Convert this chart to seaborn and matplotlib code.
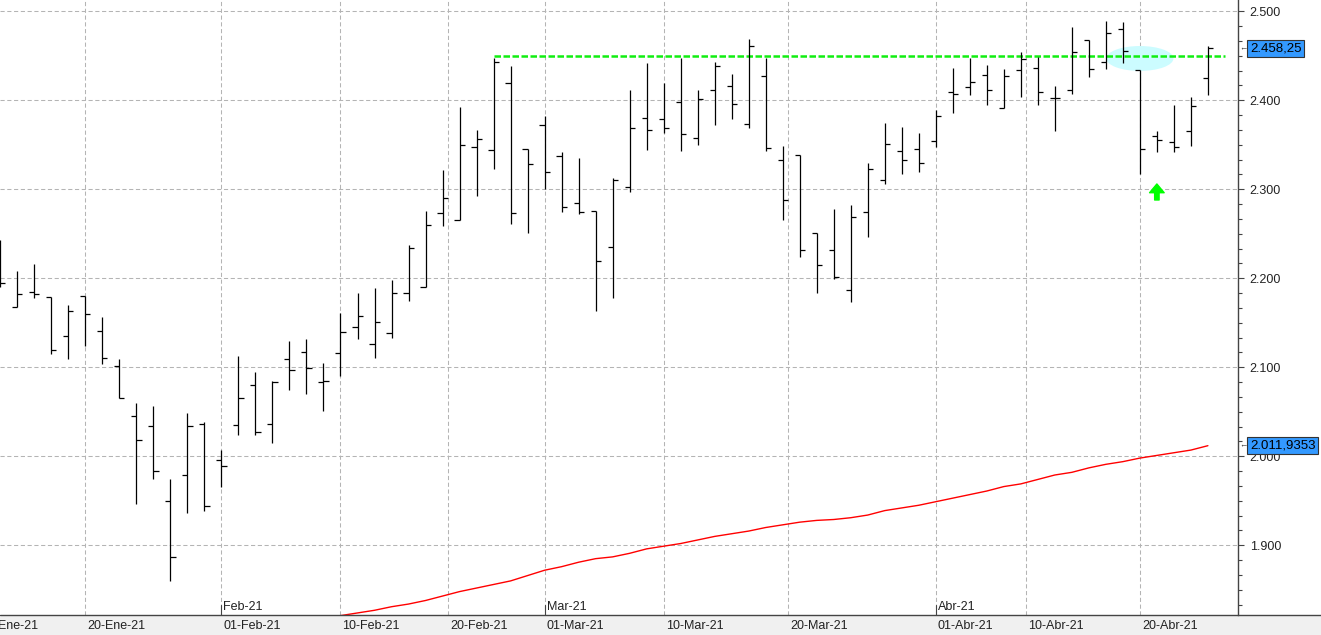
import numpy as np
import pandas as pd
import matplotlib
matplotlib.use('Agg')
import matplotlib.pyplot as plt
import seaborn as sns
from matplotlib.patches import Ellipse, Rectangle
from matplotlib.lines import Line2D
from matplotlib.ticker import MultipleLocator, FuncFormatter

# daily OHLC bars (US trading days)
dates = ['2021-01-12', '2021-01-13', '2021-01-14', '2021-01-15', '2021-01-19', '2021-01-20',
         '2021-01-21', '2021-01-22', '2021-01-25', '2021-01-26', '2021-01-27', '2021-01-28',
         '2021-01-29', '2021-02-01', '2021-02-02', '2021-02-03', '2021-02-04', '2021-02-05',
         '2021-02-08', '2021-02-09', '2021-02-10', '2021-02-11', '2021-02-12', '2021-02-16',
         '2021-02-17', '2021-02-18', '2021-02-19', '2021-02-22', '2021-02-23', '2021-02-24',
         '2021-02-25', '2021-02-26', '2021-03-01', '2021-03-02', '2021-03-03', '2021-03-04',
         '2021-03-05', '2021-03-08', '2021-03-09', '2021-03-10', '2021-03-11', '2021-03-12',
         '2021-03-15', '2021-03-16', '2021-03-17', '2021-03-18', '2021-03-19', '2021-03-22',
         '2021-03-23', '2021-03-24', '2021-03-25', '2021-03-26', '2021-03-29', '2021-03-30',
         '2021-03-31', '2021-04-01', '2021-04-05', '2021-04-06', '2021-04-07', '2021-04-08',
         '2021-04-09', '2021-04-12', '2021-04-13', '2021-04-14', '2021-04-15', '2021-04-16',
         '2021-04-19', '2021-04-20', '2021-04-21', '2021-04-22', '2021-04-23', '2021-04-26']

opens = [2232, 2168, 2185, 2179, 2135, 2180, 2141, 2101, 2045, 2034, 1950, 1979,
         2036, 1996, 2035, 2080, 2036, 2109, 2117, 2083, 2116, 2145, 2126, 2139,
         2183, 2190, 2273, 2265, 2348, 2344, 2419, 2345, 2372, 2337, 2285, 2276,
         2235, 2303, 2380, 2379, 2398, 2358, 2412, 2416, 2373, 2427, 2333, 2339,
         2251, 2232, 2187, 2275, 2310, 2343, 2345, 2354, 2409, 2415, 2428, 2391,
         2434, 2436, 2403, 2412, 2468, 2443, 2480, 2434, 2360, 2353, 2366, 2425]
highs = [2243, 2208, 2216, 2179, 2170, 2180, 2156, 2109, 2060, 2057, 1975, 2049,
         2039, 2007, 2113, 2095, 2085, 2130, 2132, 2105, 2161, 2184, 2189, 2198,
         2237, 2276, 2322, 2392, 2367, 2448, 2439, 2345, 2382, 2342, 2335, 2276,
         2313, 2412, 2442, 2420, 2447, 2412, 2443, 2430, 2469, 2447, 2349, 2339,
         2251, 2278, 2282, 2330, 2374, 2370, 2363, 2389, 2436, 2448, 2440, 2435,
         2454, 2449, 2416, 2482, 2468, 2489, 2488, 2434, 2365, 2395, 2404, 2461]
lows = [2190, 2168, 2178, 2115, 2109, 2124, 2104, 2065, 1946, 1974, 1860, 1936,
        1938, 1965, 2024, 2024, 2015, 2074, 2070, 2051, 2090, 2132, 2110, 2133,
        2174, 2190, 2259, 2265, 2292, 2323, 2261, 2251, 2300, 2274, 2272, 2163,
        2178, 2297, 2344, 2363, 2343, 2350, 2372, 2379, 2369, 2343, 2265, 2224,
        2184, 2199, 2173, 2246, 2306, 2317, 2319, 2347, 2386, 2406, 2395, 2391,
        2404, 2395, 2366, 2407, 2426, 2435, 2442, 2317, 2342, 2342, 2349, 2406]
closes = [2195, 2182, 2182, 2119, 2163, 2160, 2110, 2065, 2018, 1984, 1887, 2034,
          1944, 1989, 2066, 2027, 2083, 2097, 2099, 2085, 2140, 2158, 2151, 2184,
          2234, 2260, 2290, 2350, 2356, 2443, 2273, 2328, 2320, 2280, 2274, 2220,
          2310, 2369, 2367, 2369, 2362, 2402, 2439, 2396, 2461, 2346, 2288, 2232,
          2215, 2202, 2269, 2323, 2351, 2333, 2329, 2382, 2407, 2421, 2412, 2427,
          2446, 2409, 2403, 2454, 2435, 2476, 2455, 2345, 2355, 2347, 2394, 2458.25]

# moving average (visible from 10-Feb on)
ma_start = '2021-02-10'
ma = [1821, 1824, 1827, 1831, 1834, 1838, 1843, 1848, 1852, 1856, 1860, 1866,
      1872, 1876, 1881, 1885, 1887, 1891, 1896, 1899, 1902, 1906, 1910, 1913,
      1916, 1920, 1923, 1926, 1928, 1929, 1931, 1934, 1939, 1942, 1945, 1949,
      1953, 1957, 1961, 1966, 1969, 1974, 1979, 1982, 1987, 1991, 1994, 1998,
      2001, 2004, 2007, 2011.9353]

# annotations
resistance = 2450
resistance_from = '2021-02-24'
resistance_to = '2021-04-27'
ellipse_date = '2021-04-20'
ellipse_level = 2447
arrow_date = '2021-04-21'
arrow_tip = 2306
arrow_base = 2288

date_ticks = ['2021-01-10', '2021-01-20', '2021-02-01', '2021-02-10', '2021-02-20', '2021-03-01',
              '2021-03-10', '2021-03-20', '2021-04-01', '2021-04-10', '2021-04-20']
date_labels = ['10-Ene-21', '20-Ene-21', '01-Feb-21', '10-Feb-21', '20-Feb-21', '01-Mar-21',
               '10-Mar-21', '20-Mar-21', '01-Abr-21', '10-Abr-21', '20-Abr-21']
month_ticks = ['2021-02-01', '2021-03-01', '2021-04-01']
month_labels = ['Feb-21', 'Mar-21', 'Abr-21']

# trading calendar -> x positions (gaps for weekends/holidays removed)
holidays = ['2021-01-18', '2021-02-15', '2021-04-02']
cal = pd.bdate_range('2021-01-04', '2021-04-30', freq='C', holidays=holidays)
cal_pos = np.arange(len(cal))


def cal_x(d):
    return float(np.interp(pd.Timestamp(d).value, cal.asi8, cal_pos))


bar_x = np.array([cal_x(d) for d in dates])

sns.set_style('white')
plt.rcParams['font.family'] = ['Liberation Sans', 'DejaVu Sans']

W, H = 1321, 635
fig = plt.figure(figsize=(W / 100, H / 100), dpi=100)
fig.add_artist(Rectangle((0, 0), 1, 20 / H, transform=fig.transFigure,
                         facecolor='#f0f0f0', edgecolor='none', zorder=0))
ax = fig.add_axes([0, 20 / H, 1238 / W, 615 / H])
ax.set_facecolor('white')

# bars
ax.vlines(bar_x, lows, highs, color='black', lw=0.9, zorder=4)
tw = 0.3
ax.hlines(opens, bar_x - tw, bar_x, color='black', lw=0.9, zorder=4)
ax.hlines(closes, bar_x, bar_x + tw, color='black', lw=0.9, zorder=4)

# moving average
i0 = dates.index(ma_start)
sns.lineplot(x=bar_x[i0:], y=ma, ax=ax, color='#ff0000', lw=1.0, zorder=3)

# resistance line, highlight and arrow
ax.plot([cal_x(resistance_from), cal_x(resistance_to)], [resistance, resistance],
        color='#11ee11', lw=1.8, ls=(0, (2.6, 1.0)), zorder=3.5)
ax.add_patch(Ellipse((cal_x(ellipse_date), ellipse_level), 3.95, 28,
                     facecolor='#ccfcff', edgecolor='none', zorder=2))
ax.annotate('', xy=(cal_x(arrow_date), arrow_tip), xytext=(cal_x(arrow_date), arrow_base),
            arrowprops=dict(facecolor='#00ff00', edgecolor='#00ff00', width=3.2,
                            headwidth=10.5, headlength=6.3, shrink=0))

# axes styling
for s in ['top', 'left', 'bottom']:
    ax.spines[s].set_visible(False)
ax.spines['right'].set_color('#444444')
ax.spines['right'].set_linewidth(1.0)
fig.add_artist(Line2D([0, 1], [20 / H, 20 / H], transform=fig.transFigure,
                      color='#444444', lw=1.0))

ax.yaxis.tick_right()
ax.set_yticks(np.arange(1900, 2501, 100))
ax.yaxis.set_minor_locator(MultipleLocator(100 / 6))
ax.yaxis.set_major_formatter(FuncFormatter(lambda v, p: f'{v:,.0f}'.replace(',', '.')))
ax.tick_params(axis='y', which='major', length=4.5, width=0.8, color='#444444',
               pad=4, labelsize=9, labelcolor='#222222')
ax.tick_params(axis='y', which='minor', length=3, width=0.8, color='#444444')

tick_x = [cal_x(d) for d in date_ticks]
ax.set_xticks(tick_x)
ax.tick_params(axis='x', length=7.2, width=0.8, color='#444444', labelbottom=False)
ax.grid(True, which='major', color='#b4b4b4', ls=(0, (4, 2.5)), lw=0.75, zorder=0)

# limits after the ticks (set_xticks widens the view)
ax.set_xlim(bar_x[0] - 0.02, bar_x[-1] + 1.77)
ax.set_ylim(1821.7, 2512.7)

xt = ax.get_xaxis_transform()
for x, lbl in zip(tick_x, date_labels):
    ax.annotate(lbl, xy=(x, 0), xycoords=xt, xytext=(2, -11), textcoords='offset pixels',
                ha='left', va='center', fontsize=9, color='#222222',
                annotation_clip=False)
for d, lbl in zip(month_ticks, month_labels):
    x = cal_x(d)
    ax.plot([x, x], [0, 10 / 615], transform=xt, color='#444444', lw=0.8, clip_on=False)
    ax.annotate(lbl, xy=(x, 0), xycoords=xt, xytext=(2, 8), textcoords='offset pixels',
                ha='left', va='center', fontsize=9, color='#222222',
                annotation_clip=False)

# last value boxes on the price axis
yt = ax.get_yaxis_transform()
last_close = closes[-1]
last_ma = ma[-1]
for val, txt in [(last_close, f'{last_close:,.2f}'), (last_ma, f'{last_ma:,.4f}')]:
    txt = txt.replace(',', '#').replace('.', ',').replace('#', '.')
    ax.annotate(txt, xy=(1, val), xycoords=yt, xytext=(12, 0), textcoords='offset pixels',
                ha='left', va='center', fontsize=9.5, color='black', annotation_clip=False,
                bbox=dict(boxstyle='square,pad=0.2', facecolor='#3399ff',
                          edgecolor='#333333', lw=0.8))
    ax.annotate('\u2190', xy=(1, val), xycoords=yt, xytext=(5, 0), textcoords='offset pixels',
                ha='center', va='center', fontsize=6, color='#333333', annotation_clip=False)

fig.savefig('out.png', dpi=100)
